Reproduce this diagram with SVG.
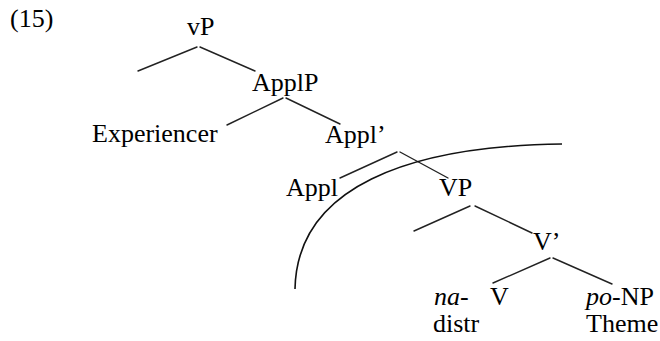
<svg xmlns="http://www.w3.org/2000/svg" width="660" height="341" viewBox="0 0 660 341">
  <style>
    text { font-family: "Liberation Serif", "Times New Roman", serif; font-size: 26px; fill: #000; }
    .it { font-style: italic; }
    .edge { stroke: #222; stroke-width: 1.4; fill: none; stroke-linecap: round; }
    .arc { stroke: #111; stroke-width: 1.6; fill: none; }
  </style>
  <rect width="660" height="341" fill="#fff"/>

  <text id="ex-num" x="10" y="27">(15)</text>

  <g id="edges">
    <line class="edge" x1="197" y1="47" x2="138" y2="71"/>
    <line class="edge" x1="200" y1="47" x2="255" y2="71"/>
    <line class="edge" x1="283" y1="98" x2="227" y2="125"/>
    <line class="edge" x1="286" y1="98" x2="340" y2="124"/>
    <line class="edge" x1="397" y1="152" x2="340" y2="178"/>
    <line class="edge" x1="400" y1="152" x2="448" y2="178"/>
    <line class="edge" x1="470" y1="206" x2="414" y2="231"/>
    <line class="edge" x1="475" y1="206" x2="532" y2="233"/>
    <line class="edge" x1="550" y1="258" x2="493" y2="283"/>
    <line class="edge" x1="553" y1="258" x2="612" y2="284"/>
  </g>

  <g id="vP"><text x="187" y="35">vP</text></g>
  <g id="ApplP"><text x="252" y="91">ApplP</text></g>
  <g id="Experiencer"><text x="92" y="142">Experiencer</text></g>
  <g id="ApplBar"><text x="325" y="143">Appl’</text></g>
  <g id="Appl"><text x="286" y="196">Appl</text></g>
  <g id="VP"><text x="439" y="196">VP</text></g>
  <g id="VBar"><text x="533" y="250">V’</text></g>
  <g id="na-distr">
    <text x="434" y="305"><tspan class="it">na</tspan>-</text>
    <text x="433" y="332">distr</text>
  </g>
  <g id="V"><text x="490" y="305">V</text></g>
  <g id="po-NP">
    <text x="586" y="305"><tspan class="it">po</tspan>-NP</text>
    <text x="586" y="332">Theme</text>
  </g>

  <!-- boundary curve across the lower tree -->
  <path class="arc" d="M295 289 C 297 187, 408 146, 562 144"/>
</svg>
